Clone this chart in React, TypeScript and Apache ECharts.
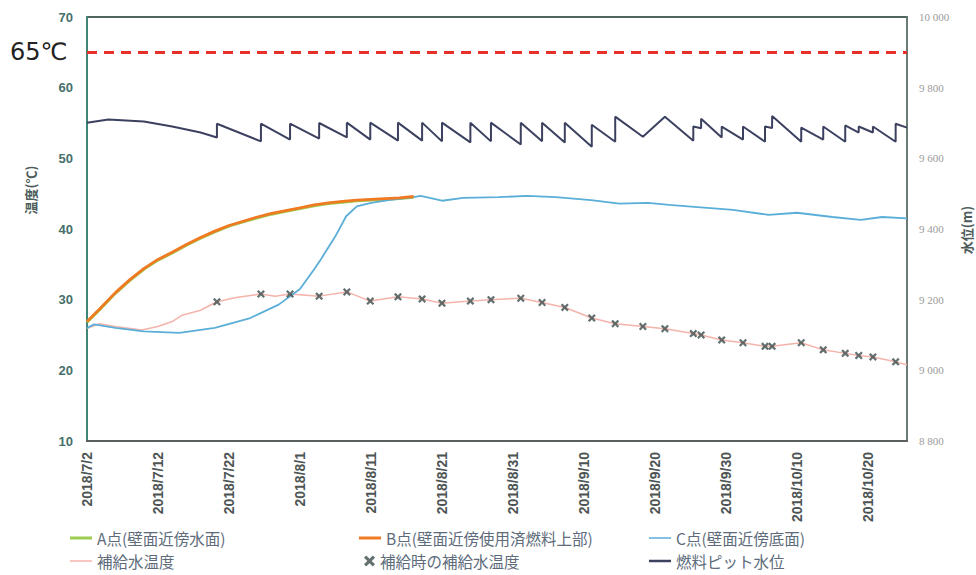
import React, { useEffect, useRef } from "react";
import * as echarts from "echarts";

// x tick labels (every 10 days from 2018/7/2)
const xTickLabels = ["2018/7/2","2018/7/12","2018/7/22","2018/8/1","2018/8/11","2018/8/21","2018/8/31","2018/9/10","2018/9/20","2018/9/30","2018/10/10","2018/10/20"];

// days since 2018/7/2
const bDays = [0,1.7,4,6,8,10,12,14,16,18,20,22,24,26,28,30,32,34,36,38,40,42,44,46];
const bTemp = [26.9,28.6,31.0,32.8,34.4,35.7,36.7,37.8,38.8,39.7,40.5,41.1,41.7,42.2,42.6,43.0,43.4,43.7,43.9,44.1,44.2,44.3,44.4,44.6];
const aDays = [0,1.7,4,6,8,10,12,14,16,18,20,22,24,26,28,30,32,34,36,38,40,42,44,46];
const aTemp = [26.8,28.5,30.9,32.7,34.3,35.6,36.6,37.7,38.7,39.6,40.4,41.0,41.6,42.1,42.5,42.9,43.3,43.6,43.8,44.0,44.1,44.2,44.3,44.5];

const cDays = [0,1,4,8,13,18,23,27,30,32,33,35,36.5,38,40,42.5,46,47,50,53,58,62,66,71,75,79,82,86,91,96,100,105,109,112,115.5];
const cTemp = [26.0,26.5,26.0,25.5,25.3,26.0,27.4,29.3,31.5,34.3,35.8,39.0,41.8,43.2,43.7,44.1,44.5,44.7,44.0,44.4,44.5,44.7,44.5,44.1,43.6,43.7,43.4,43.1,42.7,42.0,42.3,41.7,41.3,41.7,41.5];

const pinkDays = [0,1.7,4,7.7,10,12,13.4,16,18.3,21,24.5,26.5,28.6,32.7,36.6,39.9,43.8,47.2,50.0,54.0,56.9,61.1,64.1,67.3,71.1,74.4,78.3,81.4,85.4,86.5,89.4,92.4,95.5,96.5,100.6,103.7,106.8,108.7,110.7,113.9,115.5];
const pinkTemp = [25.9,26.6,26.2,25.7,26.2,26.9,27.8,28.5,29.7,30.3,30.8,30.5,30.8,30.5,31.1,29.8,30.4,30.1,29.5,29.8,30.0,30.2,29.6,28.9,27.4,26.6,26.2,25.9,25.2,25.0,24.3,23.9,23.4,23.4,23.9,22.9,22.4,22.1,21.9,21.2,20.8];

const markerDays = [18.3,24.5,28.6,32.7,36.6,39.9,43.8,47.2,50.0,54.0,56.9,61.1,64.1,67.3,71.1,74.4,78.3,81.4,85.4,86.5,89.4,92.4,95.5,96.5,100.6,103.7,106.8,108.7,110.7,113.9];
const markerTemp = [29.7,30.8,30.8,30.5,31.1,29.8,30.4,30.1,29.5,29.8,30.0,30.2,29.6,28.9,27.4,26.6,26.2,25.9,25.2,25.0,24.3,23.9,23.4,23.4,23.9,22.9,22.4,22.1,21.9,21.2];

const levelDays = [0,3,8,12,16,18.3,18.3,24.5,24.5,28.6,28.6,32.7,32.7,36.6,36.6,39.9,39.9,43.8,43.8,47.2,47.2,50.0,50.0,54.0,54.0,56.9,56.9,61.1,61.1,64.1,64.1,67.3,67.3,71.1,71.1,74.4,74.4,78.3,81.4,85.4,85.4,86.5,86.5,89.4,89.4,92.4,92.4,95.5,95.5,96.5,96.5,100.6,100.6,103.7,103.7,106.8,106.8,108.7,108.7,110.7,110.7,113.9,113.9,115.5];
const levelVals = [9701,9710,9704,9690,9673,9659,9698,9648,9698,9653,9698,9656,9700,9659,9701,9653,9701,9650,9701,9650,9701,9648,9701,9645,9701,9648,9701,9639,9701,9648,9701,9645,9701,9633,9695,9647,9718,9661,9718,9650,9690,9685,9712,9659,9690,9653,9690,9647,9690,9686,9720,9647,9687,9653,9690,9647,9693,9673,9690,9673,9690,9647,9698,9687];

const LIMIT_TEMP = 65;

const X_PATH = "path://M2,0 L5,3 L8,0 L10,2 L7,5 L10,8 L8,10 L5,7 L2,10 L0,8 L3,5 L0,2 Z";

const zip = (xs: number[], ys: number[]) => xs.map((x, i) => [x, ys[i]]);

const legendText = { fontFamily: "Noto Sans CJK JP", fontSize: 15.5, lineHeight: 16, color: "#5d6b7b" };

export default function App() {
  const ref = useRef<HTMLDivElement>(null);
  useEffect(() => {
    if (!ref.current) return;
    const chart = echarts.init(ref.current, null, { renderer: "svg" });
    const mkLegend = (name: string, left: number, top: number, w: number, h: number, icon?: string) => ({
      left, top, data: [{ name, icon: icon || "rect" }], itemWidth: w, itemHeight: h,
      textStyle: legendText, padding: 0, itemGap: 0,
    });
    chart.setOption({
      animation: false,
      backgroundColor: "#ffffff",
      grid: { left: 87, right: 69, top: 17, bottom: 134, show: true, borderColor: "#4f6660", borderWidth: 2, backgroundColor: "transparent" },
      xAxis: {
        type: "value", min: 0, max: 115.5, interval: 10,
        axisLine: { show: true, lineStyle: { color: "#5a5f5f", width: 2 } },
        axisTick: { show: false }, splitLine: { show: false },
        axisLabel: {
          rotate: 90, showMaxLabel: false, margin: 11,
          fontFamily: "Liberation Sans", fontWeight: "bold", fontSize: 14, color: "#4d5454",
          formatter: (v: number) => xTickLabels[Math.round(v / 10)] ?? "",
        },
      },
      yAxis: [
        {
          type: "value", min: 10, max: 70, interval: 10,
          axisLine: { show: true, lineStyle: { color: "#3f8577", width: 2 } },
          axisTick: { show: false }, splitLine: { show: false },
          axisLabel: { margin: 14, fontFamily: "Liberation Sans", fontWeight: "bold", fontSize: 13, color: "#46706b" },
        },
        {
          type: "value", min: 8800, max: 10000, interval: 200, position: "right",
          axisLine: { show: true, lineStyle: { color: "#6b7a74", width: 2 } },
          axisTick: { show: false }, splitLine: { show: false },
          axisLabel: {
            margin: 12, fontFamily: "Liberation Serif", fontSize: 11, color: "#9a9a9a",
            formatter: (v: number) => String(v).replace(/\B(?=(\d{3})+(?!\d))/g, " "),
          },
        },
      ],
      legend: [
        mkLegend("A点(壁面近傍水面)", 70, 530, 22, 3),
        mkLegend("B点(壁面近傍使用済燃料上部)", 359, 530, 22, 3),
        mkLegend("C点(壁面近傍底面)", 649, 530, 22, 1.5),
        mkLegend("補給水温度", 70, 553, 22, 1.5),
        mkLegend("補給時の補給水温度", 364, 553, 11, 11, X_PATH),
        mkLegend("燃料ピット水位", 649, 553, 22, 2.5),
      ],
      graphic: [
        { type: "text", left: 10, top: 40, style: { text: "65℃", fontFamily: "DejaVu Sans", fontSize: 24, fill: "#222222" } },
        { type: "text", x: 30, y: 190, rotation: Math.PI / 2, style: { text: "温度(℃)", fontFamily: "Noto Sans CJK JP", fontWeight: "bold", fontSize: 13, fill: "#4c5c5a", align: "center", verticalAlign: "middle" } },
        { type: "text", x: 966, y: 230, rotation: Math.PI / 2, style: { text: "水位(m)", fontFamily: "Noto Sans CJK JP", fontWeight: "bold", fontSize: 13, fill: "#4c5c5a", align: "center", verticalAlign: "middle" } },
      ],
      series: [
        {
          name: "燃料ピット水位", type: "line", yAxisIndex: 1, data: zip(levelDays, levelVals),
          showSymbol: false, lineStyle: { color: "#3c4160", width: 2 }, itemStyle: { color: "#3c4160" }, z: 2,
        },
        {
          name: "補給水温度", type: "line", data: zip(pinkDays, pinkTemp), showSymbol: false,
          lineStyle: { color: "#f4b3ab", width: 1.5 }, itemStyle: { color: "#f4b3ab" }, z: 3,
        },
        {
          name: "A点(壁面近傍水面)", type: "line", data: zip(aDays, aTemp), showSymbol: false,
          lineStyle: { color: "#9ccc50", width: 3 }, itemStyle: { color: "#9ccc50" }, z: 4,
        },
        {
          name: "C点(壁面近傍底面)", type: "line", data: zip(cDays, cTemp), showSymbol: false,
          lineStyle: { color: "#5aaed8", width: 1.8 }, itemStyle: { color: "#5aaed8" }, z: 5,
        },
        {
          name: "B点(壁面近傍使用済燃料上部)", type: "line", data: zip(bDays, bTemp), showSymbol: false,
          lineStyle: { color: "#f07a22", width: 2.8 }, itemStyle: { color: "#f07a22" }, z: 6,
          markLine: {
            silent: true, symbol: "none", label: { show: false },
            lineStyle: { color: "#e8302a", width: 3, type: [10, 7] },
            data: [{ yAxis: LIMIT_TEMP }],
          },
        },
        {
          name: "補給時の補給水温度", type: "scatter", data: zip(markerDays, markerTemp),
          symbol: X_PATH, symbolSize: 8, itemStyle: { color: "#3d4d4d" }, z: 7,
        },
      ],
    });
    return () => chart.dispose();
  }, []);
  return <div ref={ref} style={{ width: 976, height: 575, position: "absolute", left: 0, top: 0 }} />;
}
